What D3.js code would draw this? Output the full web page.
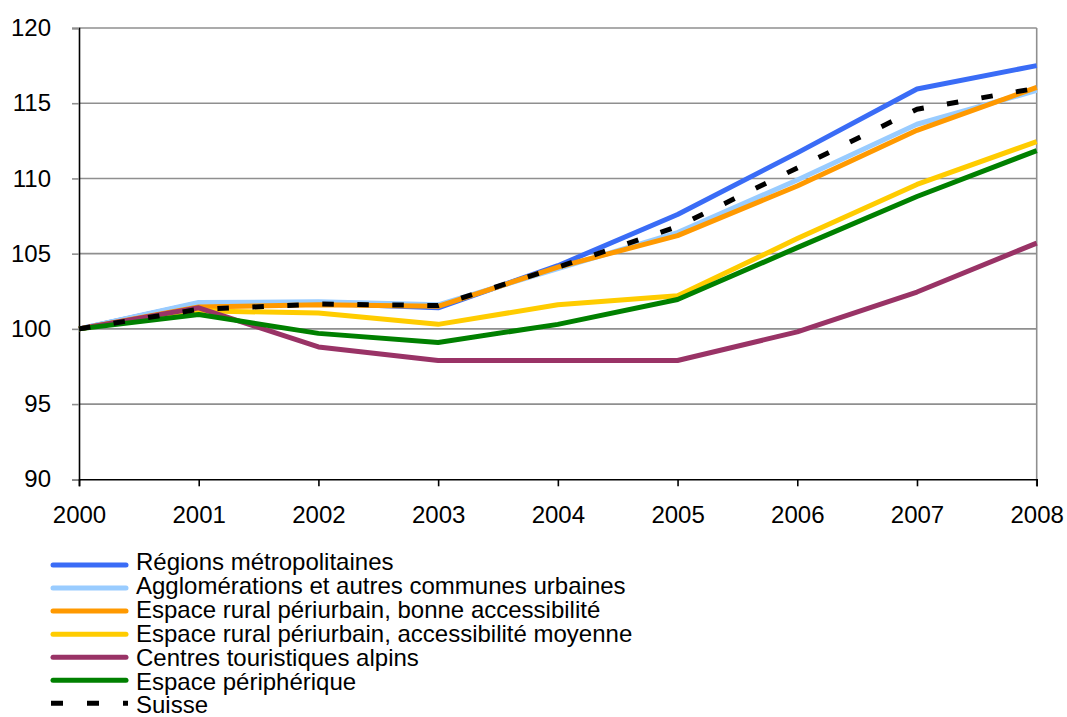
<!DOCTYPE html>
<html>
<head>
<meta charset="utf-8">
<script src="https://cdn.jsdelivr.net/npm/d3@7"></script>
<style>
  html, body { margin: 0; padding: 0; background: #fff; }
  svg { display: block; font-family: Arial, "Liberation Sans", sans-serif; }
</style>
</head>
<body>
<svg id="chart" width="1067" height="717"></svg>
<script>
// Index of population (2000 = 100) by type of area
const years = [2000, 2001, 2002, 2003, 2004, 2005, 2006, 2007, 2008];
const yTicks = [90, 95, 100, 105, 110, 115, 120];

const metropolitaines = [100, 101.7, 101.7, 101.4, 104.2, 107.6, 111.7, 115.95, 117.5];
const agglomerations  = [100, 101.75, 101.8, 101.6, 104.0, 106.4, 109.9, 113.6, 115.85];
const ruralBonne      = [100, 101.45, 101.6, 101.5, 104.1, 106.2, 109.5, 113.2, 116.05];
const ruralMoyenne    = [100, 101.2, 101.05, 100.3, 101.6, 102.2, 106.0, 109.6, 112.45];
const alpins          = [100, 101.4, 98.8, 97.9, 97.9, 97.9, 99.8, 102.45, 105.7];
const peripherique    = [100, 100.95, 99.7, 99.1, 100.3, 101.95, 105.4, 108.8, 111.85];
const suisse          = [100, 101.3, 101.65, 101.55, 104.1, 106.8, 110.7, 114.6, 116.0];

const seriesNames = [
  "Régions métropolitaines",
  "Agglomérations et autres communes urbaines",
  "Espace rural périurbain, bonne accessibilité",
  "Espace rural périurbain, accessibilité moyenne",
  "Centres touristiques alpins",
  "Espace périphérique",
  "Suisse"
];
const seriesValues = [metropolitaines, agglomerations, ruralBonne, ruralMoyenne, alpins, peripherique, suisse];
const seriesColors = ["#3a6cf6", "#99ccff", "#ff9900", "#ffcc00", "#993366", "#008000", "#000000"];

const series = seriesNames.map((name, i) => ({
  name,
  color: seriesColors[i],
  dashed: name === "Suisse",
  values: seriesValues[i].map((v, j) => ({ year: years[j], value: v }))
}));

const svg = d3.select("#chart");
const plot = { left: 79, right: 1036.7, top: 28, bottom: 479.3 };
const fontFamily = "Arial, 'Liberation Sans', sans-serif";
const fontSize = 24;

const x = d3.scalePoint().domain(years).range([plot.left, plot.right]);
const y = d3.scaleLinear().domain([90, 120]).range([plot.bottom, plot.top]);

// horizontal gridlines
svg.append("g")
  .selectAll("line")
  .data(yTicks.filter(t => t > 90))
  .join("line")
  .attr("x1", plot.left).attr("x2", plot.right)
  .attr("y1", d => y(d)).attr("y2", d => y(d))
  .attr("stroke", "#8f8f8f").attr("stroke-width", 1.6);

// right border of the plot area
svg.append("line")
  .attr("x1", plot.right).attr("x2", plot.right)
  .attr("y1", plot.top).attr("y2", plot.bottom + 7)
  .attr("stroke", "#8f8f8f").attr("stroke-width", 1.6);

// y axis
const yAxis = svg.append("g")
  .attr("transform", `translate(${plot.left},0)`)
  .call(d3.axisLeft(y).tickValues(yTicks).tickSize(7).tickPadding(21).tickFormat(d3.format("d")));
yAxis.select(".domain").attr("stroke", "#000").attr("stroke-width", 1.6);
yAxis.selectAll(".tick line").attr("stroke", "#8f8f8f").attr("stroke-width", 1.6);
yAxis.selectAll(".tick text")
  .attr("font-size", fontSize).attr("fill", "#000").attr("font-family", fontFamily);

// x axis
const xAxis = svg.append("g")
  .attr("transform", `translate(0,${plot.bottom})`)
  .call(d3.axisBottom(x).tickSize(7).tickPadding(20).tickFormat(d3.format("d")));
xAxis.select(".domain").attr("stroke", "#000").attr("stroke-width", 1.6);
xAxis.selectAll(".tick line").attr("stroke", "#000").attr("stroke-width", 1.6);
xAxis.selectAll(".tick text")
  .attr("font-size", fontSize).attr("fill", "#000").attr("font-family", fontFamily);

// series lines
const line = d3.line().x(d => x(d.year)).y(d => y(d.value));
svg.append("g")
  .selectAll("path")
  .data(series)
  .join("path")
  .attr("d", d => line(d.values))
  .attr("fill", "none")
  .attr("stroke", d => d.color)
  .attr("stroke-width", 5)
  .attr("stroke-linejoin", "round")
  .attr("stroke-dasharray", d => d.dashed ? "11.5,23.5" : null);

// legend
const legend = svg.append("g");
const rows = legend.selectAll("g")
  .data(series)
  .join("g");
rows.append("line")
  .attr("x1", d => d.dashed ? 51 : 53)
  .attr("x2", d => d.dashed ? 128 : 126)
  .attr("y1", (d, i) => 565 + i * 23.05)
  .attr("y2", (d, i) => 565 + i * 23.05)
  .attr("stroke", d => d.color)
  .attr("stroke-width", 5)
  .attr("stroke-linecap", d => d.dashed ? "butt" : "round")
  .attr("stroke-dasharray", d => d.dashed ? "12,24" : null);
rows.append("text")
  .attr("x", 136)
  .attr("y", (d, i) => 570 + i * 23.9)
  .attr("font-size", fontSize)
  .attr("font-family", fontFamily)
  .attr("fill", "#000")
  .text(d => d.name);
</script>
</body>
</html>
